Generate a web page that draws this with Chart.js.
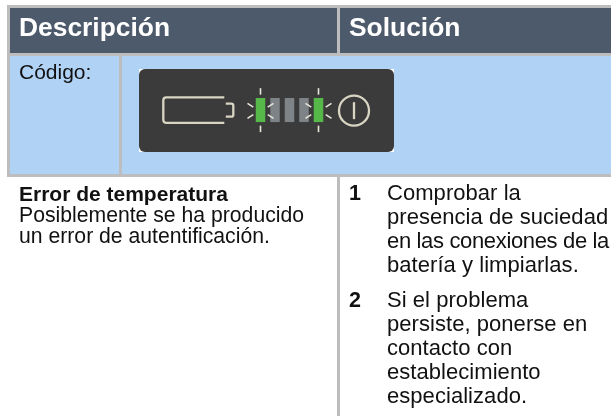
<!DOCTYPE html>
<html lang="es">
<head>
<meta charset="utf-8">
<title>Error de temperatura</title>
<script src="https://cdn.jsdelivr.net/npm/chart.js@4"></script>
<style>
html,body{margin:0;padding:0;background:#fff;overflow:hidden}
canvas{display:block}
</style>
</head>
<body>
<canvas id="c" width="611" height="416"></canvas>
<script>
const headers = ["Descripción", "Solución"];
const codeLabel = "Código:";
const descTitle = "Error de temperatura";
const descLines = ["Posiblemente se ha producido", "un error de autentificación."];
const steps = [
  { n: "1", lines: ["Comprobar la", "presencia de suciedad", "en las conexiones de la", "batería y limpiarlas."] },
  { n: "2", lines: ["Si el problema", "persiste, ponerse en", "contacto con", "establecimiento", "especializado."] }
];
const ledCategories = ["LED 1", "LED 2", "LED 3", "LED 4", "LED 5"];
const ledLevels = [1, 1, 1, 1, 1];
const ledLit = [true, false, false, false, true];

const C = { head: "#4d5a6b", blue: "#b0d2f5", rule: "#bdbdbd", panel: "#3b3b3b", line: "#d9d5c3", ray: "#e8e6da", green: "#55b848", off: "#7d8386", text: "#111" };
const FF = "'Liberation Sans', Arial, sans-serif";

function line(ctx, x1, y1, x2, y2) { ctx.beginPath(); ctx.moveTo(x1, y1); ctx.lineTo(x2, y2); ctx.stroke(); }

const tablePlugin = {
  id: "table",
  beforeDatasetsDraw(chart) {
    const ctx = chart.ctx;
    ctx.save();
    ctx.fillStyle = "#fff"; ctx.fillRect(0, 0, 611, 416);
    ctx.fillStyle = C.rule; ctx.fillRect(7, 5, 604, 172);
    ctx.fillRect(337, 177, 3, 239);
    ctx.fillStyle = C.head; ctx.fillRect(10, 8, 327, 45); ctx.fillRect(340, 8, 271, 45);
    ctx.fillStyle = C.blue; ctx.fillRect(10, 56, 109, 118); ctx.fillRect(122, 56, 489, 118);
    ctx.fillStyle = "#fff"; ctx.fillRect(139, 69, 255, 83);
    ctx.fillStyle = C.panel; ctx.beginPath(); ctx.roundRect(139, 69, 255, 83, 6); ctx.fill();

    ctx.textBaseline = "alphabetic"; ctx.textAlign = "left";
    ctx.fillStyle = "#fff"; ctx.font = "bold 26.4px " + FF;
    ctx.fillText(headers[0], 19, 36); ctx.fillText(headers[1], 349, 36);
    ctx.fillStyle = C.text; ctx.font = "21px " + FF;
    ctx.fillText(codeLabel, 19, 79);
    ctx.font = "bold 21px " + FF;
    ctx.fillText(descTitle, 19, 201);
    ctx.font = "21.2px " + FF;
    descLines.forEach((t, i) => ctx.fillText(t, 19, 222 + i * 21.2));
    let y = 200;
    steps.forEach(s => {
      ctx.font = "bold 21.5px " + FF;
      ctx.fillText(s.n, 349, y);
      ctx.font = "22px " + FF;
      s.lines.forEach((t, i) => {
        const w = ctx.measureText(t).width;
        ctx.letterSpacing = w > 222 ? ((222 - w) / t.length) + "px" : "0.05px";
        ctx.fillText(t, 387, y + i * 24);
        ctx.letterSpacing = "0px";
      });
      y += s.lines.length * 24 + 10.5;
    });
    ctx.restore();
  },
  afterDatasetsDraw(chart) {
    const ctx = chart.ctx, bars = chart.getDatasetMeta(0).data, area = chart.chartArea;
    const cy = (area.top + area.bottom) / 2;
    ctx.save();
    ctx.strokeStyle = C.ray; ctx.lineWidth = 1.6;
    bars.forEach((b, i) => {
      if (!ledLit[i]) return;
      const x = b.x;
      line(ctx, x, cy - 22, x, cy - 15.5); line(ctx, x, cy + 15.5, x, cy + 22);
      [-1, 1].forEach(d => {
        line(ctx, x + d * 7.2, cy - 3, x + d * 13, cy - 6.8);
        line(ctx, x + d * 7.2, cy + 4.5, x + d * 13, cy + 8.2);
      });
    });
    ctx.strokeStyle = C.line; ctx.lineWidth = 2.3;
    const left = bars[0].x - 97.2;
    ctx.beginPath();
    ctx.moveTo(left + 61, cy - 12.7); ctx.lineTo(left + 3, cy - 12.7);
    ctx.quadraticCurveTo(left, cy - 12.7, left, cy - 9.7);
    ctx.lineTo(left, cy + 9.7);
    ctx.quadraticCurveTo(left, cy + 12.7, left + 3, cy + 12.7);
    ctx.lineTo(left + 61, cy + 12.7);
    ctx.stroke();
    ctx.beginPath();
    ctx.moveTo(left + 62.5, cy - 6.5); ctx.lineTo(left + 68, cy - 6.5);
    ctx.quadraticCurveTo(left + 70, cy - 6.5, left + 70, cy - 4.5);
    ctx.lineTo(left + 70, cy + 4.5);
    ctx.quadraticCurveTo(left + 70, cy + 6.5, left + 68, cy + 6.5);
    ctx.lineTo(left + 62.5, cy + 6.5);
    ctx.stroke();
    const px = bars[4].x + 35.5;
    ctx.beginPath(); ctx.arc(px, cy + 0.5, 15, 0, Math.PI * 2); ctx.stroke();
    line(ctx, px, cy - 8, px, cy + 9);
    ctx.restore();
  }
};

new Chart(document.getElementById("c"), {
  type: "bar",
  data: {
    labels: ledCategories,
    datasets: [{
      data: ledLevels,
      backgroundColor: ledLit.map(on => on ? C.green : C.off),
      categoryPercentage: 1,
      barPercentage: 0.655,
      borderWidth: 0
    }]
  },
  options: {
    responsive: false,
    animation: false,
    layout: { padding: { left: 253.25, right: 285.25, top: 98, bottom: 293.7 } },
    plugins: { legend: { display: false }, tooltip: { enabled: false } },
    scales: {
      x: { display: false },
      y: { display: false, min: 0, max: 1 }
    }
  },
  plugins: [tablePlugin]
});
</script>
</body>
</html>
